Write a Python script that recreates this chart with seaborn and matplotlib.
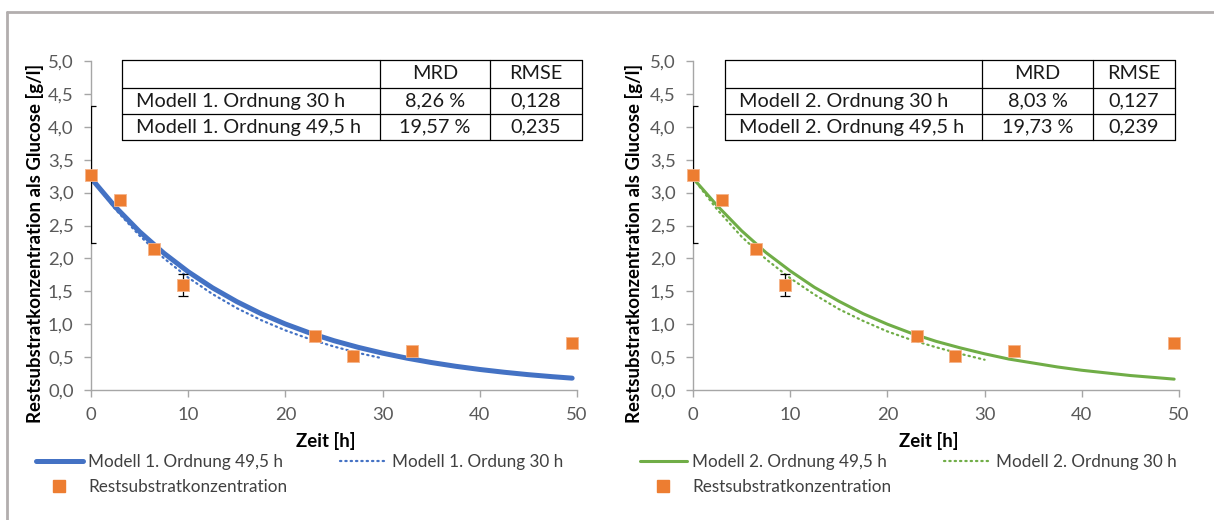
import numpy as np
import pandas as pd
import matplotlib
matplotlib.use("Agg")
import matplotlib.pyplot as plt
from matplotlib.lines import Line2D
import seaborn as sns

# Measured residual substrate (as glucose) over time
t_meas = [0, 3, 6.5, 9.5, 23, 27, 33, 49.5]
c_meas = [3.27, 2.88, 2.15, 1.60, 0.82, 0.51, 0.59, 0.71]
# Standard deviations (only where replicates exist)
err_t = [0, 9.5]
err_c = [3.27, 1.60]
err_sd = [1.04, 0.17]

# Model curves
t_long = [0, 2.5, 5, 7.5, 10, 12.5, 15, 17.5, 20, 22.5, 25, 27.5, 30,
          32.5, 35, 37.5, 40, 42.5, 45, 47.5, 49.5]
t_short = [0, 2.5, 5, 7.5, 10, 12.5, 15, 17.5, 20, 22.5, 25, 27.5, 30]
m1_long = [3.22, 2.783, 2.406, 2.079, 1.797, 1.553, 1.343, 1.160, 1.003, 0.867,
           0.749, 0.648, 0.560, 0.484, 0.418, 0.361, 0.312, 0.270, 0.233, 0.202, 0.180]
m1_short = [3.22, 2.748, 2.345, 2.002, 1.708, 1.458, 1.244, 1.062, 0.906, 0.774,
            0.660, 0.563, 0.481]
m2_long = [3.22, 2.80, 2.42, 2.09, 1.81, 1.56, 1.35, 1.16, 1.00, 0.86,
           0.74, 0.64, 0.55, 0.47, 0.41, 0.35, 0.30, 0.26, 0.22, 0.19, 0.165]
m2_short = [3.22, 2.74, 2.33, 1.99, 1.70, 1.45, 1.23, 1.05, 0.89, 0.76,
            0.65, 0.55, 0.46]

# Fit quality tables
tab_header = ["", "MRD", "RMSE"]
tab1_rows = [["Modell 1. Ordnung 30 h", "8,26 %", "0,128"],
             ["Modell 1. Ordnung 49,5 h", "19,57 %", "0,235"]]
tab2_rows = [["Modell 2. Ordnung 30 h", "8,03 %", "0,127"],
             ["Modell 2. Ordnung 49,5 h", "19,73 %", "0,239"]]

legend1 = ["Modell 1. Ordnung 49,5 h", "Modell 1. Ordung 30 h", "Restsubstratkonzentration"]
legend2 = ["Modell 2. Ordnung 49,5 h", "Modell 2. Ordnung 30 h", "Restsubstratkonzentration"]

x_ticks = [0, 10, 20, 30, 40, 50]
y_ticks = [0, 0.5, 1, 1.5, 2, 2.5, 3, 3.5, 4, 4.5, 5]

BLUE = "#4472C4"
GREEN = "#70AD47"
ORANGE = "#ED7D31"
TICKGREY = "#595959"
AXGREY = "#A6A6A6"

sns.set_style("white")
plt.rcParams["font.family"] = ["Lato", "DejaVu Sans"]

W, H = 1214, 520
fig = plt.figure(figsize=(W / 100, H / 100), dpi=100)


def fx(px):
    return px / W


def fy(py):
    return 1 - py / H


def axes_at(x0, x1, y_top, y_bot):
    return fig.add_axes([fx(x0), fy(y_bot), fx(x1) - fx(x0), fy(y_top) - fy(y_bot)])


def fmt_comma(v):
    return f"{v:.1f}".replace(".", ",")


def draw_panel(ax, long_vals, short_vals, color, lw_solid, labels):
    df_long = pd.DataFrame({"t": t_long, "c": long_vals})
    df_short = pd.DataFrame({"t": t_short, "c": short_vals})
    df_meas = pd.DataFrame({"t": t_meas, "c": c_meas})
    sns.lineplot(data=df_long, x="t", y="c", ax=ax, color=color, lw=lw_solid,
                 solid_capstyle="round", zorder=3)
    sns.lineplot(data=df_short, x="t", y="c", ax=ax, color=color, lw=1.6,
                 zorder=3)
    ax.lines[-1].set_dashes([0.6, 1.8])
    ax.lines[-1].set_dash_capstyle("round")
    ax.errorbar(err_t, err_c, yerr=err_sd, fmt="none", ecolor="black",
                elinewidth=0.9, capsize=3.5, capthick=0.9, zorder=4)
    sns.scatterplot(data=df_meas, x="t", y="c", ax=ax, marker="s", s=85,
                    color=ORANGE, edgecolor="#F6B48A", linewidth=0.6, zorder=5,
                    clip_on=False)
    ax.set_xlim(0, 50)
    ax.set_ylim(0, 5)
    ax.set_xticks(x_ticks)
    ax.set_yticks(y_ticks)
    ax.set_yticklabels([fmt_comma(v) for v in y_ticks])
    ax.set_xticklabels([str(v) for v in x_ticks])
    for s in ["top", "right"]:
        ax.spines[s].set_visible(False)
    for s in ["left", "bottom"]:
        ax.spines[s].set_color(AXGREY)
        ax.spines[s].set_linewidth(1.0)
    ax.tick_params(axis="both", direction="out", length=5, width=1.0,
                   color=AXGREY, labelcolor=TICKGREY, labelsize=13.3, pad=7.5,
                   left=True, bottom=True)
    ax.set_xlabel("")
    ax.set_ylabel("")

    h_solid = Line2D([], [], color=color, lw=lw_solid)
    h_dot = Line2D([], [], color=color, lw=1.6, dashes=[0.6, 1.8],
                   dash_capstyle="round")
    h_sq = Line2D([], [], color=ORANGE, marker="s", ms=8.5, lw=0)
    return [h_solid, h_sq, h_dot], [labels[0], labels[2], labels[1]]


def draw_table(x_cols, y_rows, header, rows):
    # grid lines
    for xc in x_cols:
        fig.add_artist(Line2D([fx(xc), fx(xc)], [fy(y_rows[0]), fy(y_rows[-1])],
                              color="black", lw=0.9))
    for yr in y_rows:
        fig.add_artist(Line2D([fx(x_cols[0]), fx(x_cols[-1])], [fy(yr), fy(yr)],
                              color="black", lw=0.9))
    all_rows = [header] + rows
    for r, row in enumerate(all_rows):
        yc = (y_rows[r] + y_rows[r + 1]) / 2
        for c, txt in enumerate(row):
            if c == 0:
                fig.text(fx(x_cols[0] + 14), fy(yc), txt, ha="left", va="center",
                         fontsize=14.3, color="#1a1a1a")
            else:
                xc = (x_cols[c] + x_cols[c + 1]) / 2
                fig.text(fx(xc), fy(yc), txt, ha="center", va="center",
                         fontsize=14.3, color="#1a1a1a")


# outer frame
fig.add_artist(Line2D([fx(7), fx(7)], [fy(12), 0], color="#B2AEAE", lw=2))
fig.add_artist(Line2D([fx(7), 1], [fy(12), fy(12)], color="#B2AEAE", lw=2))

ax1 = axes_at(91, 577, 61, 390)
ax2 = axes_at(693, 1179, 61, 390)

h1, l1 = draw_panel(ax1, m1_long, m1_short, BLUE, 3.6, legend1)
h2, l2 = draw_panel(ax2, m2_long, m2_short, GREEN, 2.2, legend2)

for ax, xc, ylx in [(ax1, 326, 35), (ax2, 929, 634)]:
    fig.text(fx(xc), fy(441), "Zeit [h]", ha="center", va="center",
             fontsize=13.4, fontweight="bold", color="black")
    fig.text(fx(ylx), fy(243), "Restsubstratkonzentration als Glucose [g/l]",
             rotation=90, ha="center", va="center", fontsize=13.4,
             fontweight="bold", color="black")

draw_table([122, 380, 490, 582], [60, 88, 114, 140], tab_header, tab1_rows)
draw_table([725, 982, 1093, 1175], [60, 88, 114, 140], tab_header, tab2_rows)

for h, l, x0 in [(h1, l1, 36), (h2, l2, 640)]:
    fig.legend(h, l, ncol=2, loc="upper left",
               bbox_to_anchor=(fx(x0), fy(454)), frameon=False,
               fontsize=12.3, labelcolor="#404040", handlelength=2.75,
               handletextpad=0.3, columnspacing=3.1, labelspacing=0.55,
               borderaxespad=0, borderpad=0)

fig.savefig("out.png", dpi=100)
